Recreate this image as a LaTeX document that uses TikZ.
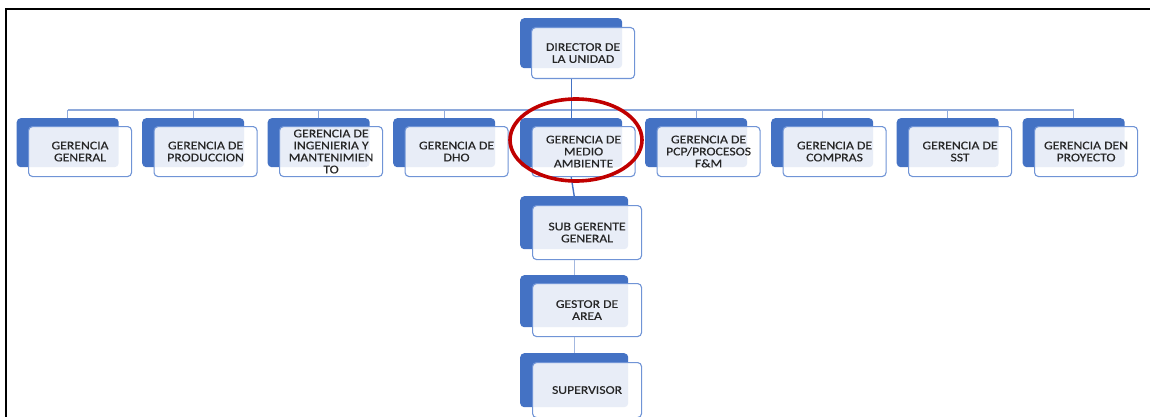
\documentclass[tikz,border=0pt]{standalone}
\usepackage{fontspec}
\setmainfont{Carlito}[FakeStretch=1.16,FakeBold=0.3]
\usetikzlibrary{shapes.geometric}
\definecolor{accent}{HTML}{4472C4}
\definecolor{frontline}{HTML}{7094D6}
\definecolor{barcol}{HTML}{8EA9DB}
\definecolor{lowcol}{HTML}{A3B8E0}
\definecolor{txt}{HTML}{262626}
\definecolor{ringred}{HTML}{C00000}
\tikzset{
  backbox/.style={fill=accent, rounded corners=4pt, anchor=north west, inner sep=0pt},
  frontbox/.style={fill=white, fill opacity=0.88, text opacity=1, draw=frontline, line width=1.1pt,
    rounded corners=4pt, anchor=north west, inner sep=0pt, align=center, text=txt,
    font=\fontsize{11.8}{12}\selectfont},
  barline/.style={draw=barcol, line width=1.1pt},
  mainline/.style={draw=accent, line width=1.4pt},
  lowline/.style={draw=lowcol, line width=1.4pt},
  ring/.style={draw=ringred, line width=3.6pt, ellipse, inner sep=0pt},
  frame/.style={draw=black, line width=2pt}
}
% name, x, y, w, h, dx, dy, text
\newcommand\orgunit[8]{%
  \node[backbox, minimum width=#4, minimum height=#5] (#1b) at (#2,#3) {};
  \node[frontbox, minimum width=#4+1, minimum height=#5+1] (#1) at (#2+#6,#3+#7) {#8};
}
\begin{document}
\begin{tikzpicture}[x=1pt,y=-1pt]
\useasboundingbox (0,0) rectangle (1150,417);
\draw[frame] (5.5,417) -- (5.5,9.5) -- (1150,9.5);
\coordinate (bar) at (0,110);
% director
\orgunit{dir}{520}{18}{102}{50}{11}{9}{DIRECTOR DE\\LA UNIDAD}
% second level
\orgunit{gg}{16.5}{118}{102}{49}{11.5}{8}{GERENCIA\\GENERAL}
\orgunit{pr}{142}{118}{102}{49}{11.5}{8}{GERENCIA DE\\PRODUCCION}
\orgunit{im}{267.5}{118}{102}{49}{11.5}{8}{GERENCIA DE\\INGENIERIA Y\\MANTENIMIEN\\TO}
\orgunit{dh}{393}{118}{102}{49}{11.5}{8}{GERENCIA DE\\DHO}
\orgunit{ma}{520}{118}{102}{49}{11.5}{8}{GERENCIA DE\\MEDIO\\AMBIENTE}
\orgunit{pc}{645}{118}{102}{49}{11.5}{8}{GERENCIA DE\\PCP/PROCESOS\\F\&M}
\orgunit{co}{771}{118}{102}{49}{11.5}{8}{GERENCIA DE\\COMPRAS}
\orgunit{ss}{896.5}{118}{102}{49}{11.5}{8}{GERENCIA DE\\SST}
\orgunit{py}{1022.5}{118}{102}{49}{11.5}{8}{GERENCIA DEN\\PROYECTO}
% column
\orgunit{sg}{520}{196}{108}{53}{12}{9}{SUB GERENTE\\GENERAL}
\orgunit{ge}{520}{275}{108}{52}{12}{8}{GESTOR DE\\AREA}
\orgunit{su}{520}{353}{108}{54}{12}{9}{SUPERVISOR}
% connectors
\draw[barline] (ggb.north |- bar) -- (pyb.north |- bar);
\foreach \n in {gg,pr,im,dh,pc,co,ss,py}{
  \draw[barline] (\n b.north) -- (\n b.north |- bar);
}
\draw[mainline] (dirb.south |- dir.south) -- (mab.north);
\draw[mainline] (mab.south |- ma.south) -- (sgb.north);
\draw[lowline] (sgb.south |- sg.south) -- (geb.north);
\draw[lowline] (geb.south |- ge.south) -- (sub.north);
% highlight
\node[ring, minimum width=132, minimum height=82] (circ) at (576,140) {};
\end{tikzpicture}
\end{document}
